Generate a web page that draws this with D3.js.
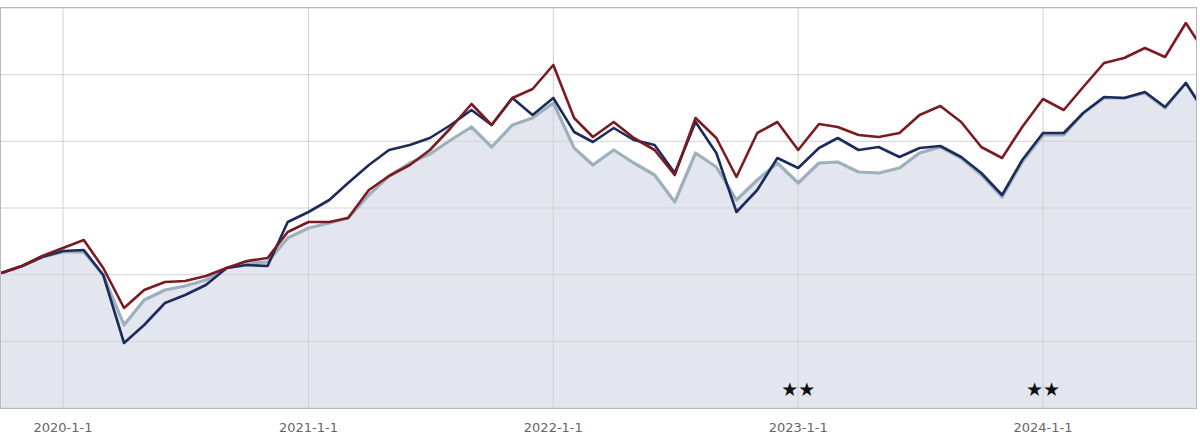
<!DOCTYPE html>
<html>
<head>
<meta charset="utf-8">
<script src="https://cdn.jsdelivr.net/npm/d3@7"></script>
<style>
  body { margin: 0; background: #fff; }
  svg { display: block; font-family: Verdana, "DejaVu Sans", sans-serif; }
</style>
</head>
<body>
<svg id="chart" width="1200" height="440"></svg>
<script>
// monthly points starting 2019-10-01
var startMonth = new Date(2019, 9, 1);
var redSeries = [135,142,152,160,168,140,100,118,126,127,132,140,147,150,176,186,186,190,218,232,
                 243,258,280,304,283,310,319,343,290,271,286,270,258,233,290,270,231,275,286,258,
                 284,281,273,271,275,293,302,286,261,250,281,309,298,321,345,350,360,351,385,353];
var navySeries = [135,142,151,157,158,133,65,83,105,113,123,140,143,142,186,196,208,225,243,258,
                  263,270,283,298,283,310,293,310,276,266,280,268,263,235,286,255,196,218,250,240,
                  260,270,258,261,251,260,262,251,235,213,248,275,275,295,311,310,316,301,325,293];
var lightSeries = [135,142,151,156,156,133,83,108,118,122,128,140,145,146,170,180,185,190,213,232,
                   245,254,268,281,261,283,290,305,260,243,258,245,233,206,255,241,208,228,245,225,
                   245,246,236,235,240,255,261,250,233,211,246,273,273,295,310,310,315,300,325,293];
var tickLabels = ['2020-1-1', '2021-1-1', '2022-1-1', '2023-1-1', '2024-1-1'];
var starDates = ['2023-1-1', '2024-1-1'];

/****************************************
** helpers
*****************************************/
var parseDay = d3.timeParse('%Y-%m-%d');
var monthDate = function(i) {
    return d3.timeMonth.offset(startMonth, i);
}

var svg = d3.select('#chart');
var plotLeft = 0, plotRight = 1196, plotTop = 8, plotBottom = 408;

var x = d3.scaleTime()
    .domain([parseDay('2020-1-1'), parseDay('2024-1-1')])
    .range([63, 1043]);
var y = d3.scaleLinear().domain([0, 400]).range([plotBottom, plotTop]);

svg.append('clipPath').attr('id', 'plot-clip')
    .append('rect').attr('x', plotLeft).attr('y', plotTop)
    .attr('width', plotRight - plotLeft).attr('height', plotBottom - plotTop);

var plot = svg.append('g').attr('clip-path', 'url(#plot-clip)');

// area under light series
var area = d3.area()
    .x(function(d, i) { return x(monthDate(i)); })
    .y0(plotBottom)
    .y1(function(d) { return y(d); });
plot.append('path').datum(lightSeries)
    .attr('d', area).attr('fill', '#e3e6ef');

// grid drawn over the fill
plot.append('g').selectAll('line')
    .data(d3.range(0, 401, 400 / 6))
    .enter().append('line')
    .attr('x1', plotLeft).attr('x2', plotRight)
    .attr('y1', function(d) { return y(d); })
    .attr('y2', function(d) { return y(d); })
    .attr('stroke', '#d2d3d8').attr('stroke-width', 1);
plot.append('g').selectAll('line')
    .data(tickLabels)
    .enter().append('line')
    .attr('x1', function(d) { return x(parseDay(d)); })
    .attr('x2', function(d) { return x(parseDay(d)); })
    .attr('y1', plotTop).attr('y2', plotBottom)
    .attr('stroke', '#cfd0d6').attr('stroke-width', 1);

var line = d3.line()
    .x(function(d, i) { return x(monthDate(i)); })
    .y(function(d) { return y(d); });

var drawLine = function(data, color, width) {
    plot.append('path').datum(data)
        .attr('d', line)
        .attr('fill', 'none')
        .attr('stroke', color)
        .attr('stroke-width', width)
        .attr('stroke-linejoin', 'round');
}
drawLine(lightSeries, '#9db0bb', 3.2);
drawLine(navySeries, '#1d2b5c', 2.6);
drawLine(redSeries, '#7b1a20', 2.6);

// border
svg.append('rect')
    .attr('x', plotLeft + 0.5).attr('y', plotTop - 0.5)
    .attr('width', plotRight - plotLeft).attr('height', plotBottom - plotTop + 1)
    .attr('fill', 'none').attr('stroke', '#b8b8be');

// x labels
svg.append('g').selectAll('text')
    .data(tickLabels)
    .enter().append('text')
    .attr('x', function(d) { return x(parseDay(d)); })
    .attr('y', 432)
    .attr('text-anchor', 'middle')
    .attr('font-size', 13)
    .attr('fill', '#666')
    .text(function(d) { return d; });

// stars
svg.append('g').selectAll('text')
    .data(starDates)
    .enter().append('text')
    .attr('x', function(d) { return x(parseDay(d)); })
    .attr('y', 396)
    .attr('text-anchor', 'middle')
    .attr('font-size', 19)
    .attr('fill', '#111')
    .text('★★');
</script>
</body>
</html>
